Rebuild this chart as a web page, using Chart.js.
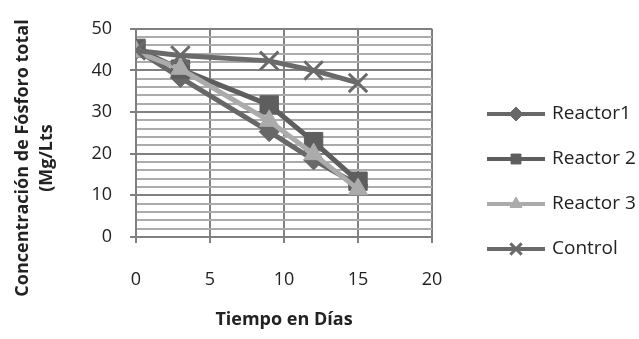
<!DOCTYPE html>
<html>
<head>
<meta charset="utf-8">
<script src="https://cdn.jsdelivr.net/npm/chart.js@4.4.1/dist/chart.umd.min.js"></script>
<style>
  html, body { margin: 0; padding: 0; background: #fff; }
  canvas { display: block; }
</style>
</head>
<body>
<canvas id="chart" width="639" height="339"></canvas>
<script>
const dias = [0, 3, 9, 12, 15];
const reactor1 = [45, 38.3, 25.3, 18.5, 12.5];
const reactor2 = [45.3, 40.3, 31.7, 22.9, 13.4];
const reactor3 = [44.5, 40.4, 27.9, 19.9, 11.5];
const control = [44.8, 43.6, 42.3, 40, 37];

const seriesLabels = ['Reactor1', 'Reactor 2', 'Reactor 3', 'Control'];
const yTitle = ['Concentración de Fósforo total', '(Mg/Lts'];
const xTitle = 'Tiempo en Días';

const toPoints = vals => vals.map((v, i) => ({ x: dias[i], y: v }));

// legend like the excel one: short line with the marker in the middle
const excelLegend = {
    id: 'excelLegend',
    afterDraw(chart) {
        const ctx = chart.ctx;
        chart.data.datasets.forEach((ds, i) => {
            const y = 114 + i * 45;
            ctx.save();
            ctx.strokeStyle = ds.borderColor;
            ctx.fillStyle = ds.borderColor;
            ctx.lineWidth = 4;
            ctx.beginPath();
            ctx.moveTo(487, y);
            ctx.lineTo(545, y);
            ctx.stroke();
            const cross = ds.pointStyle === 'crossRot';
            ctx.lineWidth = cross ? 3 : 1;
            Chart.helpers.drawPoint(ctx, {
                pointStyle: ds.pointStyle,
                radius: cross ? 8 : 7,
                rotation: 0,
                borderWidth: ctx.lineWidth
            }, 516, y);
            ctx.fillStyle = '#222';
            ctx.font = '19px "Open Sans"';
            ctx.textBaseline = 'middle';
            ctx.textAlign = 'left';
            ctx.fillText(ds.label, 552, y);
            ctx.restore();
        });

        // y axis title, two rotated lines
        ctx.save();
        ctx.fillStyle = '#222';
        ctx.font = 'bold 18px "Open Sans"';
        ctx.textAlign = 'center';
        ctx.textBaseline = 'middle';
        yTitle.forEach((line, i) => {
            ctx.save();
            ctx.translate(23 + i * 24, 158);
            ctx.rotate(-Math.PI / 2);
            ctx.fillText(line, 0, 0);
            ctx.restore();
        });
        ctx.restore();
    }
};

const makeSet = (label, data, color, style, radius, order) => ({
    label: label,
    data: toPoints(data),
    borderColor: color,
    backgroundColor: color,
    pointBackgroundColor: color,
    pointBorderColor: color,
    pointStyle: style,
    pointRadius: radius,
    pointBorderWidth: style === 'crossRot' ? 3 : 1,
    borderWidth: 5,
    showLine: true,
    tension: 0,
    order: order
});

new Chart(document.getElementById('chart'), {
    type: 'scatter',
    data: {
        datasets: [
            makeSet(seriesLabels[0], reactor1, '#686868', 'rectRot', 10, 4),
            makeSet(seriesLabels[1], reactor2, '#5e5e5e', 'rect', 13, 3),
            makeSet(seriesLabels[2], reactor3, '#ababab', 'triangle', 11, 2),
            makeSet(seriesLabels[3], control, '#6a6a6a', 'crossRot', 13, 1)
        ]
    },
    options: {
        responsive: false,
        animation: false,
        layout: { padding: { top: 18, right: 207, left: 0, bottom: 0 } },
        plugins: {
            legend: { display: false },
            tooltip: { enabled: false }
        },
        scales: {
            x: {
                type: 'linear',
                min: 0,
                max: 20,
                afterFit: s => { s.height = 102; },
                ticks: {
                    stepSize: 5,
                    padding: 26,
                    color: '#222',
                    font: { family: 'Open Sans', size: 18 }
                },
                grid: {
                    color: '#808080',
                    lineWidth: 2,
                    tickLength: 6
                },
                border: { color: '#808080', width: 2 },
                title: {
                    display: true,
                    text: xTitle,
                    color: '#222',
                    font: { family: 'Open Sans', size: 18, weight: 'bold' },
                    padding: { top: 0, bottom: 8 }
                }
            },
            y: {
                min: 0,
                max: 50,
                afterFit: s => { s.width = 136; },
                ticks: {
                    stepSize: 2,
                    autoSkip: false,
                    padding: 18,
                    color: '#222',
                    font: { family: 'Open Sans', size: 18 },
                    callback: v => (v % 10 === 0 ? v : '')
                },
                grid: {
                    color: c => (c.tick && c.tick.value % 10 === 0 ? '#808080' : '#ababab'),
                    tickColor: c => (c.tick && c.tick.value % 10 === 0 ? '#808080' : 'rgba(0,0,0,0)'),
                    lineWidth: 2,
                    tickLength: 6
                },
                border: { color: '#808080', width: 2 }
            }
        }
    },
    plugins: [excelLegend]
});
</script>
</body>
</html>
